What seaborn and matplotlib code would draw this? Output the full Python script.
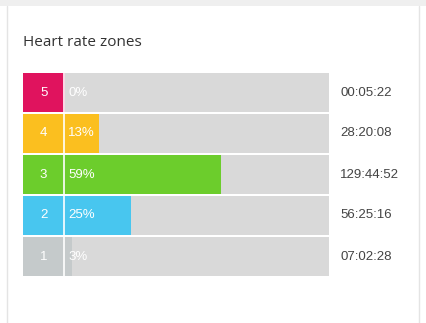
import matplotlib
matplotlib.use("Agg")
import matplotlib.pyplot as plt
from matplotlib.patches import Rectangle
import seaborn as sns
import pandas as pd

# Heart rate zone data
zones = ["5", "4", "3", "2", "1"]
percent = [0, 13, 59, 25, 3]
durations = ["00:05:22", "28:20:08", "129:44:52", "56:25:16", "07:02:28"]
zone_colors = ["#e0135e", "#fbbf1f", "#6ccd2c", "#48c6ef", "#c5cacb"]
track_color = "#d9d9d9"

sns.set_theme(style="white")
plt.rcParams["font.family"] = ["Liberation Sans", "DejaVu Sans"]

W, H = 427, 323
fig = plt.figure(figsize=(W / 100, H / 100), dpi=100)
fig.patch.set_facecolor("white")

# page background strip and card outline
fig.add_artist(Rectangle((0, (H - 6) / H), 1, 6 / H, transform=fig.transFigure,
                         facecolor="#efefef", edgecolor="none"))
for xpx in (7.5, 419.5):
    fig.add_artist(plt.Line2D([xpx / W, xpx / W], [0, (H - 6) / H],
                              transform=fig.transFigure, color="#e4e4e4", lw=1))

fig.text(23 / W, 1 - 43 / H, "Heart rate zones", family=["Open Sans", "DejaVu Sans"],
         fontsize=11, color="#333333", va="center", ha="left")

# axes covering the zone boxes and bar tracks (pixel-aligned)
x0, x1 = 23, 329
y_top, y_bot = 72, 277
ax = fig.add_axes([x0 / W, 1 - y_bot / H, (x1 - x0) / W, (y_bot - y_top) / H])

df = pd.DataFrame({"zone": zones, "pct": percent,
                   "track": [100] * len(zones), "box": [-15.7] * len(zones)})

bar_w = 0.974
sns.barplot(data=df, y="zone", x="track", order=zones, color=track_color,
            width=bar_w, ax=ax, saturation=1, linewidth=0)
sns.barplot(data=df, y="zone", x="box", hue="zone", order=zones, hue_order=zones,
            palette=zone_colors, width=bar_w, ax=ax, saturation=1, linewidth=0,
            legend=False, dodge=False)
sns.barplot(data=df, y="zone", x="pct", hue="zone", order=zones, hue_order=zones,
            palette=zone_colors, width=bar_w, ax=ax, saturation=1, linewidth=0,
            legend=False, dodge=False)

# white separator between zone box and track
ax.axvline(-0.3, color="white", lw=1.2, zorder=5)

ax.set_xlim(-15.7, 100)
ax.set_ylim(len(zones) - 0.5, -0.5)
ax.axis("off")

for i, (z, p, d) in enumerate(zip(zones, percent, durations)):
    ax.text(-7.9, i, z, color="white", fontsize=9.5, ha="center", va="center", zorder=6)
    ax.text(1.4, i, f"{p}%", color="white", fontsize=9.5, ha="left", va="center", zorder=6)
    ax.text(104.2, i, d, color="#444444", fontsize=9.5, ha="left", va="center",
            clip_on=False)

fig.savefig("out.png", dpi=100, facecolor="white")
